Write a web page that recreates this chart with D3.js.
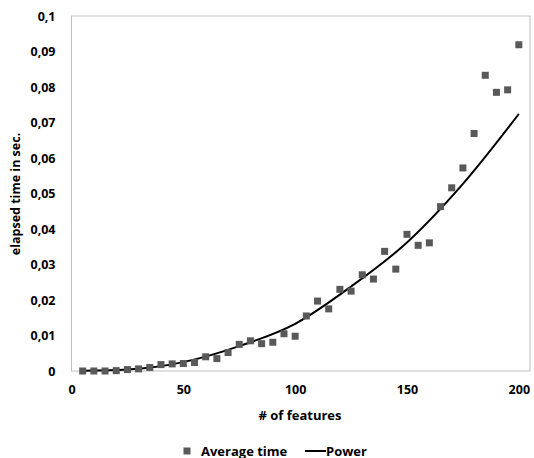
<!DOCTYPE html>
<html lang="en">
<head>
  <meta charset="UTF-8">
  <title>Elapsed time vs features</title>
  <style>
    body { margin: 0; background: #fff; }
    svg text { font-family: "Open Sans", "Noto Sans", sans-serif; font-weight: 700; fill: #000; }
  </style>
</head>
<body>
<script src="https://d3js.org/d3.v7.min.js"></script>
<div id="chart"></div>
<script>
  // number of features and measured average times (seconds)
  const features = [5, 10, 15, 20, 25, 30, 35, 40, 45, 50,
                    55, 60, 65, 70, 75, 80, 85, 90, 95, 100,
                    105, 110, 115, 120, 125, 130, 135, 140, 145, 150,
                    155, 160, 165, 170, 175, 180, 185, 190, 195, 200];
  const avgTime = [0.0000, 0.0000, 0.0000, 0.0001, 0.0004, 0.0006, 0.0010, 0.0018, 0.0020, 0.0021,
                   0.0024, 0.0040, 0.0035, 0.0052, 0.0075, 0.0085, 0.0077, 0.0081, 0.0105, 0.0098,
                   0.0155, 0.0197, 0.0175, 0.0230, 0.0225, 0.0271, 0.0259, 0.0337, 0.0287, 0.0385,
                   0.0354, 0.0361, 0.0463, 0.0516, 0.0572, 0.0669, 0.0833, 0.0785, 0.0792, 0.0919];

  // power trendline
  const trendX = [5, 25, 50, 75, 100, 125, 150, 175, 200];
  const trendY = [0.00004, 0.0004, 0.0025, 0.0070, 0.0133, 0.0238, 0.0362, 0.0527, 0.0724];

  const xTicks = [0, 50, 100, 150, 200];
  const yTicks = [0, 0.01, 0.02, 0.03, 0.04, 0.05, 0.06, 0.07, 0.08, 0.09, 0.1];

  const width = 534, height = 458;
  const margin = {top: 16, right: 4, bottom: 87, left: 71.5};

  const svg = d3.select("#chart").append("svg")
          .attr("width", width)
          .attr("height", height);

  const x = d3.scaleLinear()
          .domain([0, 205])
          .range([margin.left, width - margin.right]);
  const y = d3.scaleLinear()
          .domain([0, 0.1])
          .range([height - margin.bottom, margin.top]);

  const fmt = d => String(d).replace(".", ",");

  // plot frame
  svg.append("rect")
          .attr("x", x(0))
          .attr("y", y(0.1))
          .attr("width", x(205) - x(0))
          .attr("height", y(0) - y(0.1))
          .attr("fill", "none")
          .attr("stroke", "#bfbfbf")
          .attr("stroke-width", 1);

  // y axis
  const yAxis = svg.append("g")
          .attr("transform", `translate(${x(0)},0)`)
          .call(d3.axisLeft(y).tickValues(yTicks).tickFormat(fmt).tickSize(0).tickPadding(16));
  yAxis.select(".domain").remove();
  yAxis.selectAll("text").style("font-size", "12.5px");

  // x axis
  const xAxis = svg.append("g")
          .attr("transform", `translate(0,${y(0)})`)
          .call(d3.axisBottom(x).tickValues(xTicks).tickFormat(fmt).tickSize(0).tickPadding(14));
  xAxis.select(".domain").remove();
  xAxis.selectAll("text").style("font-size", "12.5px");

  // axis titles
  svg.append("text")
          .attr("x", 300)
          .attr("y", 420)
          .attr("text-anchor", "middle")
          .style("font-size", "13px")
          .text("# of features");

  svg.append("text")
          .attr("transform", `translate(20,194) rotate(-90)`)
          .attr("text-anchor", "middle")
          .style("font-size", "12.5px")
          .text("elapsed time in sec.");

  // trendline
  const line = d3.line()
          .x((d, i) => x(trendX[i]))
          .y(d => y(d))
          .curve(d3.curveMonotoneX);
  svg.append("path")
          .datum(trendY)
          .attr("d", line)
          .attr("fill", "none")
          .attr("stroke", "#000")
          .attr("stroke-width", 2);

  // markers
  const s = 7;
  svg.append("g")
          .selectAll("rect")
          .data(avgTime)
          .join("rect")
          .attr("x", (d, i) => x(features[i]) - s / 2)
          .attr("y", d => y(d) - s / 2)
          .attr("width", s)
          .attr("height", s)
          .attr("fill", "#595959");

  // legend
  const lg = svg.append("g");
  lg.append("rect")
          .attr("x", 183.5).attr("y", 447.5)
          .attr("width", 7).attr("height", 7)
          .attr("fill", "#595959");
  lg.append("text")
          .attr("x", 201).attr("y", 455.5)
          .style("font-size", "13px")
          .text("Average time");
  lg.append("line")
          .attr("x1", 305).attr("x2", 326)
          .attr("y1", 451).attr("y2", 451)
          .attr("stroke", "#000")
          .attr("stroke-width", 2);
  lg.append("text")
          .attr("x", 326).attr("y", 455.5)
          .style("font-size", "13px")
          .text("Power");
</script>
</body>
</html>
